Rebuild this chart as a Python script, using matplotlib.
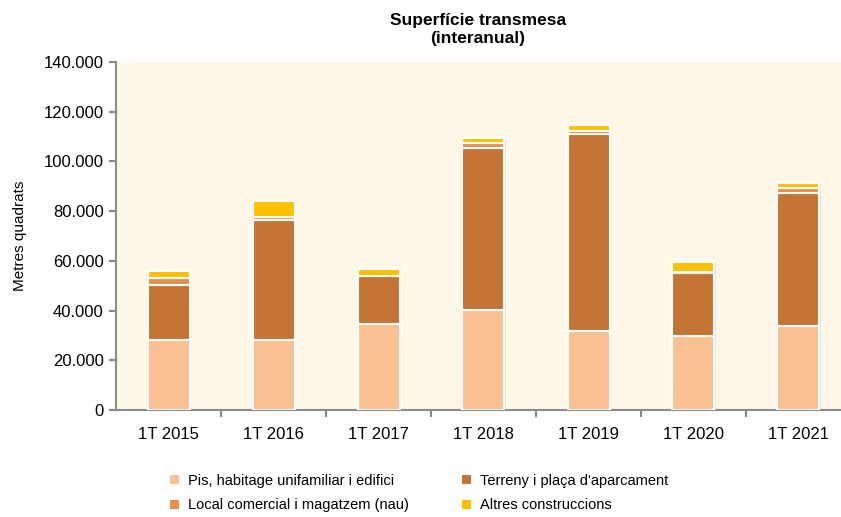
import numpy as np
import matplotlib.pyplot as plt
from matplotlib.patches import Patch
from matplotlib.ticker import FuncFormatter
import matplotlib.patheffects as pe

plt.rcParams['font.family'] = ['Liberation Sans', 'DejaVu Sans']

periodes = ['1T 2015', '1T 2016', '1T 2017', '1T 2018', '1T 2019', '1T 2020', '1T 2021']
pis = [28200, 28200, 34600, 40200, 31800, 29800, 33800]
terreny = [22100, 48200, 19300, 65200, 79200, 25300, 53500]
local = [2800, 1200, 0, 2000, 1200, 300, 2000]
altres = [2800, 6500, 2800, 2000, 2400, 4100, 2000]

series = [
    ('Pis, habitage unifamiliar i edifici', pis, '#F9C092'),
    ('Terreny i plaça d\'aparcament', terreny, '#C47535'),
    ('Local comercial i magatzem (nau)', local, '#E8904A'),
    ('Altres construccions', altres, '#FFC000'),
]

fig = plt.figure(figsize=(8.41, 5.17), dpi=100)
ax = fig.add_axes([116 / 841, 1 - 410 / 517, 725 / 841, 348 / 517])
ax.set_facecolor('#FFF7E8')

x = np.arange(len(periodes))
base = np.zeros(len(periodes))
sombra = [pe.SimplePatchShadow(offset=(1, -1), shadow_rgbFace='#a0a0a0', alpha=0.25), pe.Normal()]
for nom, vals, col in series:
    vals = np.array(vals, dtype=float)
    barres = ax.bar(x, vals, 0.4, bottom=base, color=col, edgecolor='white', linewidth=1.5, zorder=3)
    for b in barres:
        b.set_path_effects(sombra)
    base += vals

ax.set_xlim(-0.5, -0.5 + 725 / 105)
ax.set_ylim(0, 140000)
ax.set_yticks(np.arange(0, 140001, 20000))
ax.yaxis.set_major_formatter(FuncFormatter(lambda v, p: f'{int(v):,}'.replace(',', '.')))
ax.set_xticks(x)
ax.set_xticklabels(periodes)
ax.set_xticks(np.arange(0.5, 6.5, 1), minor=True)
ax.tick_params(axis='x', which='major', length=0, pad=12, labelsize=12)
ax.tick_params(axis='x', which='minor', length=5, color='#888888', width=1.5)
ax.tick_params(axis='y', length=5, color='#888888', width=1.5, labelsize=12, pad=4)
for s in ['top', 'right']:
    ax.spines[s].set_visible(False)
for s in ['left', 'bottom']:
    ax.spines[s].set_color('#8c8c8c')
    ax.spines[s].set_linewidth(1.5)

ax.set_ylabel('Metres quadrats', fontsize=11)
ax.yaxis.set_label_coords(-0.123, 0.5)

fig.text(478 / 841, 1 - 29 / 517, 'Superfície transmesa\n(interanual)', ha='center', va='center',
         fontsize=12.5, fontweight='bold', linespacing=1.25)

handles = [Patch(facecolor=c, edgecolor='none') for _, _, c in series]
labels = [n for n, _, _ in series]
# ordre: columna 1 = Pis, Local ; columna 2 = Terreny, Altres
ordre = [0, 2, 1, 3]
fig.legend([handles[i] for i in ordre], [labels[i] for i in ordre], ncol=2,
           loc='center left', bbox_to_anchor=(157 / 841, 1 - 493 / 517), frameon=False,
           fontsize=10.5, handlelength=0.6, handleheight=0.6, handletextpad=0.6,
           columnspacing=3.7, labelspacing=0.75)

fig.savefig('out.png', dpi=100, facecolor='white')
